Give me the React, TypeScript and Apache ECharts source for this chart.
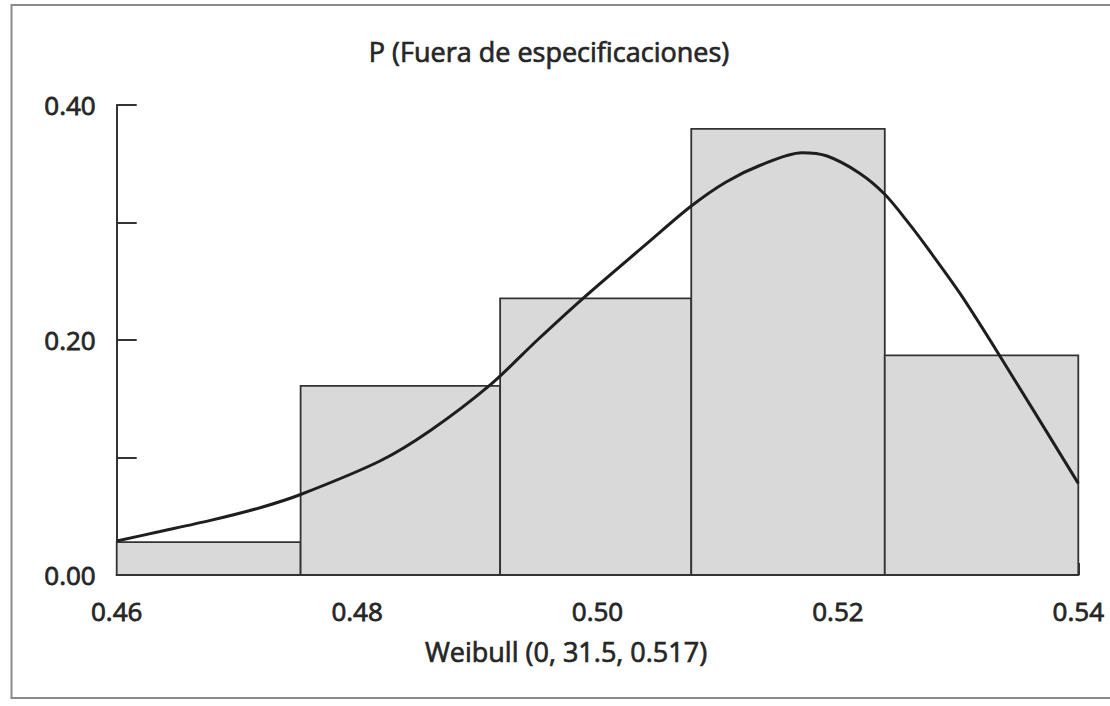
import React, { useEffect, useRef } from "react";
import * as echarts from "echarts";

// Histogram bins (left edge, right edge) and heights
const binStarts = [0.46, 0.4753, 0.4919, 0.5078, 0.5239];
const binEnds = [0.4753, 0.4919, 0.5078, 0.5239, 0.54];
const binHeights = [0.028, 0.161, 0.2355, 0.3796, 0.187];

// Fitted Weibull curve
const curveX = [
  0.46, 0.4636, 0.4678, 0.472, 0.4753, 0.4819, 0.4861, 0.4911, 0.495,
  0.4988, 0.5041, 0.5078, 0.5107, 0.5135, 0.517, 0.5191, 0.5218, 0.5239,
  0.526, 0.5274, 0.5302, 0.5335, 0.54,
];
const curveY = [
  0.029, 0.037, 0.0465, 0.0575, 0.0685, 0.097, 0.123, 0.162, 0.2,
  0.2355, 0.282, 0.314, 0.3345, 0.3485, 0.3594, 0.3566, 0.342, 0.324,
  0.298, 0.279, 0.239, 0.186, 0.078,
];

const yLabelValues = [0, 0.2, 0.4];
const titleText = "P (Fuera de especificaciones)";
const xAxisName = "Weibull (0, 31.5, 0.517)";

const FONT = "'Open Sans', sans-serif";
const TEXT = "#262626";

export default function App() {
  const ref = useRef<HTMLDivElement>(null);

  useEffect(() => {
    if (!ref.current) return;
    const chart = echarts.init(ref.current, undefined, { renderer: "svg" });

    const barData = binStarts.map((s, i) => [s, binEnds[i], binHeights[i]]);
    const lineData = curveX.map((x, i) => [x, curveY[i]]);

    chart.setOption({
      animation: false,
      backgroundColor: "#ffffff",
      grid: { left: 116.7, right: 31.7, top: 105, bottom: 131 },
      graphic: [
        {
          type: "rect",
          shape: { x: 11.5, y: 5, width: 1110, height: 693 },
          style: { fill: "none", stroke: "#8a8a8a", lineWidth: 2 },
          silent: true,
          z: -10,
        },
        {
          type: "text",
          x: 549,
          y: 51,
          style: {
            text: titleText,
            fill: TEXT,
            font: `27px ${FONT}`,
            align: "center",
            verticalAlign: "middle",
            stroke: TEXT,
            lineWidth: 0.7,
          },
        },
      ],
      xAxis: {
        type: "value",
        min: 0.46,
        max: 0.54,
        interval: 0.02,
        name: xAxisName,
        nameLocation: "middle",
        nameGap: 63,
        nameTextStyle: {
          fontFamily: FONT,
          fontSize: 27,
          color: TEXT,
          textBorderColor: TEXT,
          textBorderWidth: 0.7,
          padding: [0, 63, 0, 0],
        },
        splitLine: { show: false },
        axisLine: { lineStyle: { color: "#333333", width: 2 } },
        axisTick: {
          inside: true,
          length: 12,
          lineStyle: { color: "#333333", width: 2 },
        },
        axisLabel: {
          fontFamily: FONT,
          fontSize: 26,
          color: TEXT,
          textBorderColor: TEXT,
          textBorderWidth: 0.8,
          margin: 23,
          formatter: (v: number) => v.toFixed(2),
        },
      },
      yAxis: {
        type: "value",
        min: 0,
        max: 0.4,
        interval: 0.1,
        splitLine: { show: false },
        axisLine: { show: true, lineStyle: { color: "#333333", width: 2 } },
        axisTick: {
          show: true,
          inside: true,
          length: 20,
          lineStyle: { color: "#333333", width: 2 },
        },
        axisLabel: {
          fontFamily: FONT,
          fontSize: 26,
          color: TEXT,
          textBorderColor: TEXT,
          textBorderWidth: 0.8,
          margin: 21,
          formatter: (v: number) =>
            yLabelValues.some((l) => Math.abs(l - v) < 1e-9) ? v.toFixed(2) : "",
        },
      },
      series: [
        {
          type: "custom",
          name: "Histograma",
          encode: { x: [0, 1], y: 2 },
          data: barData,
          z: 2,
          renderItem: (params: any, api: any) => {
            const p0 = api.coord([api.value(0), api.value(2)]);
            const p1 = api.coord([api.value(1), 0]);
            return {
              type: "rect",
              shape: {
                x: p0[0],
                y: p0[1],
                width: p1[0] - p0[0],
                height: p1[1] - p0[1],
              },
              style: { fill: "#d9d9d9", stroke: "#333333", lineWidth: 1.8 },
            };
          },
        },
        {
          type: "line",
          name: "Weibull",
          data: lineData,
          smooth: 0.3,
          showSymbol: false,
          symbol: "none",
          z: 5,
          lineStyle: { color: "#1e1e1e", width: 3 },
        },
      ],
    });

    return () => chart.dispose();
  }, []);

  return (
    <div
      ref={ref}
      style={{ position: "absolute", left: 0, top: 0, width: 1110, height: 706 }}
    />
  );
}
